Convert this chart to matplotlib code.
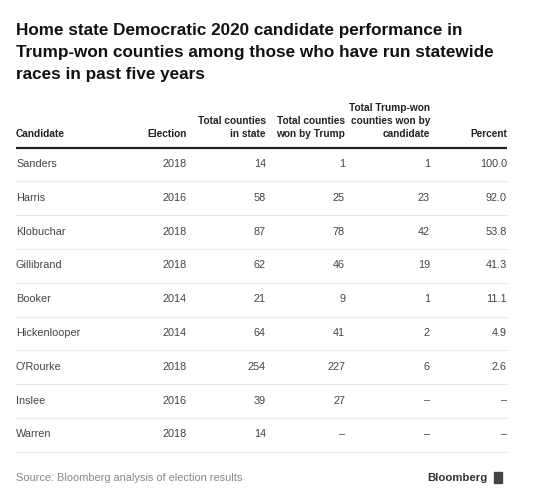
import matplotlib.pyplot as plt
from matplotlib.patches import Rectangle

title = ("Home state Democratic 2020 candidate performance in\n"
         "Trump-won counties among those who have run statewide\n"
         "races in past five years")
headers = ["Candidate", "Election", "Total counties\nin state", "Total counties\nwon by Trump",
           "Total Trump-won\ncounties won by\ncandidate", "Percent"]
candidates = ["Sanders", "Harris", "Klobuchar", "Gillibrand", "Booker",
              "Hickenlooper", "O'Rourke", "Inslee", "Warren"]
elections = ["2018", "2016", "2018", "2018", "2014", "2014", "2018", "2016", "2018"]
total_counties = ["14", "58", "87", "62", "21", "64", "254", "39", "14"]
trump_counties = ["1", "25", "78", "46", "9", "41", "227", "27", "\u2013"]
won_by_candidate = ["1", "23", "42", "19", "1", "2", "6", "\u2013", "\u2013"]
percent = ["100.0", "92.0", "53.8", "41.3", "11.1", "4.9", "2.6", "\u2013", "\u2013"]
source = "Source: Bloomberg analysis of election results"

plt.rcParams['font.family'] = ['Liberation Sans', 'DejaVu Sans']

fig = plt.figure(figsize=(5.6, 5.03), dpi=100)
ax = fig.add_axes([0, 0, 1, 1])
ax.set_xlim(0, 560)
ax.set_ylim(503, 0)
ax.axis('off')

ax.text(16, 23, title, fontsize=12.3, fontweight='bold', color='#111111',
        va='top', ha='left', linespacing=1.58)

# column right edges (first col left-aligned)
col_x = [16, 187, 266, 345, 430, 507]
for i, h in enumerate(headers):
    ax.text(col_x[i], 137, h, fontsize=7.3, fontweight='bold', color='#222222',
            ha='left' if i == 0 else 'right', va='baseline', linespacing=1.35,
            multialignment='left' if i == 0 else 'right')
ax.plot([16, 507], [148, 148], color='#222222', lw=1.6, solid_capstyle='butt')

cols = [candidates, elections, total_counties, trump_counties, won_by_candidate, percent]
row_h = 33.8
y0 = 164
for r in range(len(candidates)):
    y = y0 + r * row_h
    for i, col in enumerate(cols):
        ax.text(col_x[i], y, col[r], fontsize=7.8, color='#444444',
                ha='left' if i == 0 else 'right', va='center')
    ax.plot([16, 507], [y + 17.3, y + 17.3], color='#e8e8e8', lw=0.8)

ax.text(16, 478, source, fontsize=7.9, color='#888888', ha='left', va='center')
ax.text(488, 478, "Bloomberg", fontsize=8.2, fontweight='bold', color='#333333',
        ha='right', va='center')
ax.add_patch(Rectangle((494, 472), 8, 11, color='#444444'))

fig.savefig('out.png', dpi=100)
